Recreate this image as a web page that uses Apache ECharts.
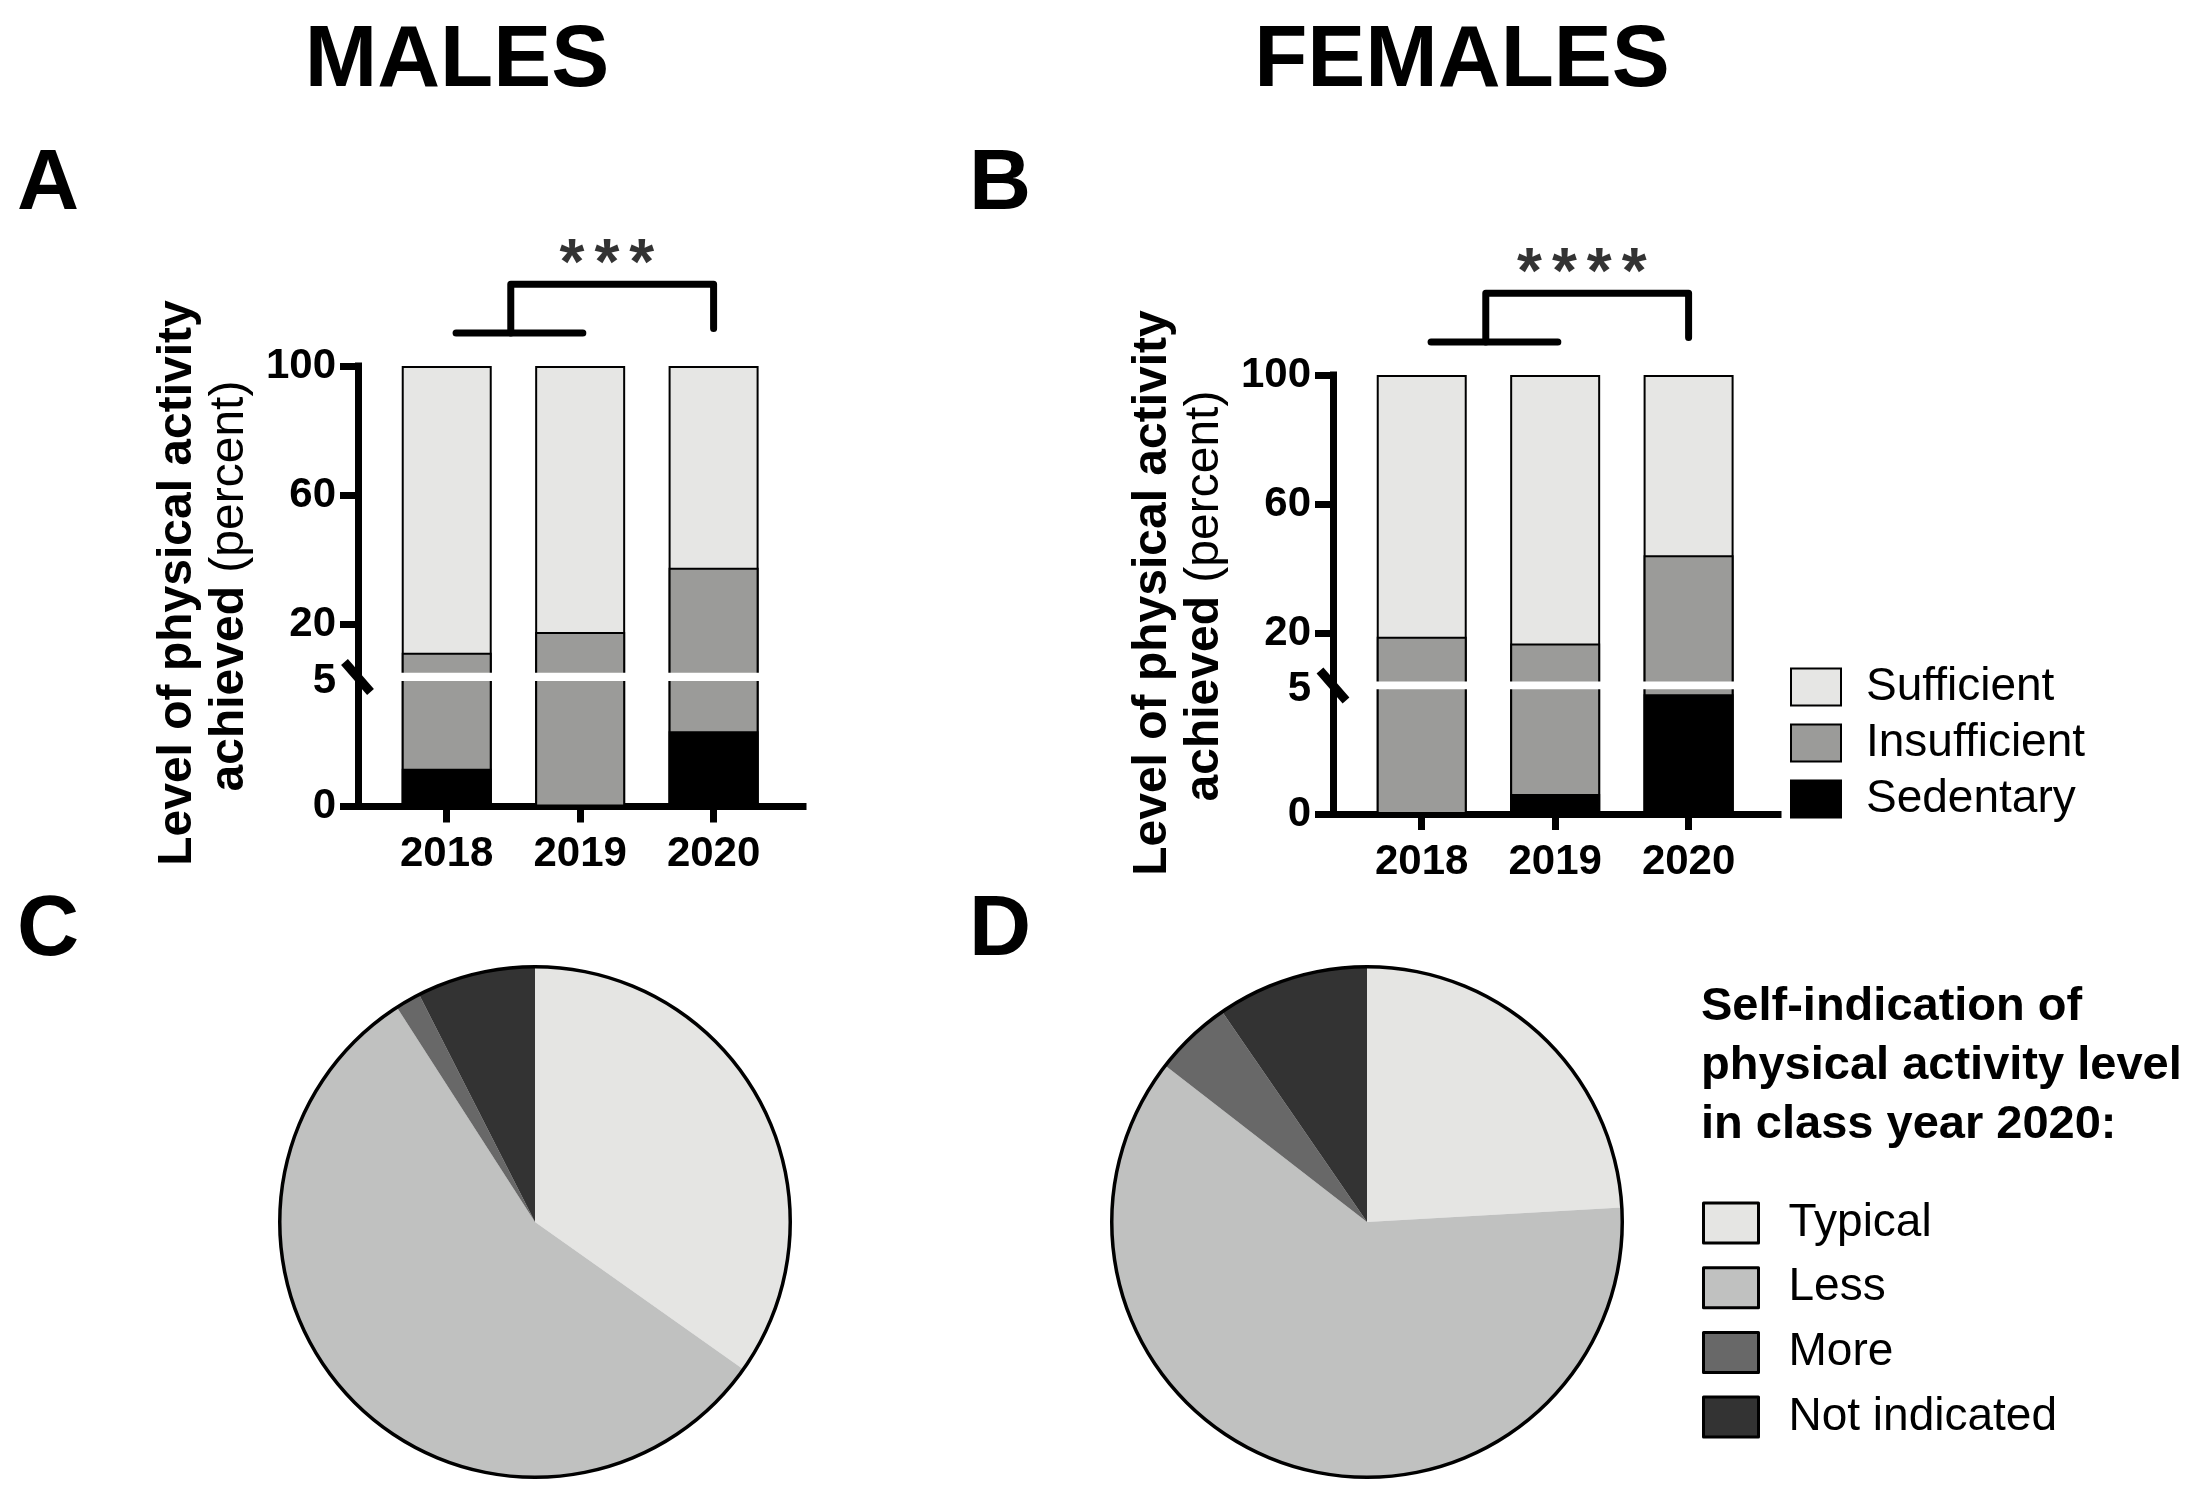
<!DOCTYPE html>
<html><head><meta charset="utf-8">
<script src="https://cdn.jsdelivr.net/npm/echarts@6/dist/echarts.min.js"></script>
<style>html,body{margin:0;padding:0;background:#fff}#c{width:2204px;height:1497px}</style>
</head><body><div id="c"></div>
<script>
// ---------- data ----------
const years = ['2018', '2019', '2020'];
const levels = ['Sufficient', 'Insufficient', 'Sedentary'];
const maleSedentary = [1.5, 0, 3.0];
const maleInsufficient = [9.7, 17.6, 34.5];
const maleSufficient = [88.8, 82.4, 62.5];
const femaleSedentary = [0, 0.8, 4.8];
const femaleInsufficient = [18.9, 16.0, 39.3];
const femaleSufficient = [81.1, 83.2, 55.9];
const upperTicks = [20, 60, 100];
const lowerLabels = [0, 5];
const lowerTicks = [0];
const selfCategories = ['Typical', 'Less', 'More', 'Not indicated'];
const maleSelf = [34.8, 56.1, 1.6, 7.5];
const femaleSelf = [24.1, 61.4, 4.9, 9.6];
// significance annotations (axis units of the upper segment)
const bracketLow = [[0.07, 110.2], [1.02, 110.2]];
const bracketHigh = [[0.48, 110.2], [0.48, 125.3], [2, 125.3], [2, 111.6]];
const starsAt = [[1.2, 131]];
const maleStars = '***';
const femaleStars = '****';

// ---------- style ----------
const F = '"Liberation Sans", Arial, Helvetica, sans-serif';
const barColors = {Sufficient: '#e6e6e4', Insufficient: '#9b9b99', Sedentary: '#000000'};
const pieColors = ['#e5e5e3', '#c0c1c0', '#686868', '#333333'];

const chart = echarts.init(document.getElementById('c'), null, {renderer: 'canvas'});

const grids = [
  {left: 358, top: 366, width: 445, height: 308.2},
  {left: 358, top: 679.5, width: 445, height: 127},
  {left: 1333, top: 375, width: 445, height: 308},
  {left: 1333, top: 687.8, width: 445, height: 126.2}
].map(g => Object.assign({containLabel: false, outerBoundsMode: 'none', show: false}, g));

const lineSt = {color: '#000', width: 7, cap: 'square'};
function xAxisFor(i, show) {
  return {
    type: 'value', gridIndex: i, min: -0.665, max: 2.67, show: show,
    axisLine: {show: true, onZero: false, lineStyle: lineSt},
    axisTick: {show: true, customValues: [0, 1, 2], length: 16, lineStyle: {color: '#000', width: 7}},
    axisLabel: {show: true, customValues: [0, 1, 2], formatter: v => years[v], margin: 27,
      fontSize: 42, fontWeight: 'bold', fontFamily: F, color: '#000'},
    splitLine: {show: false}
  };
}
function yAxisFor(i, upper) {
  return {
    type: 'value', gridIndex: i, min: upper ? 4.535 : 0, max: upper ? 100 : 5.06,
    axisLine: {show: true, onZero: false, lineStyle: lineSt},
    axisTick: {show: true, customValues: upper ? upperTicks : lowerTicks, length: 18, lineStyle: {color: '#000', width: 7}},
    axisLabel: {show: true, customValues: upper ? upperTicks : lowerLabels, margin: 22,
      fontSize: 42, fontWeight: 'bold', fontFamily: F, color: '#000'},
    splitLine: {show: false}
  };
}

function panelBars(sed, ins, suf, gU, gL) {
  const cumIns = ins.map((v, i) => v + sed[i]);
  const cumSuf = suf.map((v, i) => v + ins[i] + sed[i]);
  const layers = [['Sufficient', cumSuf], ['Insufficient', cumIns], ['Sedentary', sed]];
  const out = [];
  [gU, gL].forEach(g => {
    layers.forEach(([name, vals]) => {
      out.push({
        type: 'bar', name: name, xAxisIndex: g, yAxisIndex: g,
        data: vals.map((v, i) => [i, v]),
        barWidth: 90, barGap: '-100%', clip: true, silent: true,
        itemStyle: {color: barColors[name], borderColor: '#000', borderWidth: 2},
        emphasis: {disabled: true}
      });
    });
  });
  return out;
}
function bracketSeries(g, stars) {
  const ls = {color: '#000', width: 7, cap: 'round', join: 'round'};
  const starText = stars.split('').map(s => '{a|' + s + '}').join('{s| }');
  return [
    {type: 'line', xAxisIndex: g, yAxisIndex: g, data: bracketLow, symbol: 'none', clip: false, silent: true, z: 6, lineStyle: ls},
    {type: 'line', xAxisIndex: g, yAxisIndex: g, data: bracketHigh, symbol: 'none', clip: false, silent: true, z: 6, lineStyle: ls},
    {type: 'scatter', xAxisIndex: g, yAxisIndex: g, data: starsAt, symbolSize: 1, clip: false, silent: true, z: 6,
      itemStyle: {color: 'rgba(0,0,0,0)'},
      label: {show: true, position: 'inside', formatter: starText, color: '#000', fontFamily: F,
        rich: {a: {fontSize: 64, fontWeight: 'bold', color: '#000', fontFamily: F},
               s: {fontSize: 36, color: '#000', fontFamily: F}}}}
  ];
}
function pieSeries(vals, cx) {
  return [{
    type: 'pie', center: [cx, 1222], radius: 255, startAngle: 90, clockwise: true, silent: true,
    label: {show: false}, labelLine: {show: false}, emphasis: {disabled: true},
    itemStyle: {borderWidth: 0},
    data: selfCategories.map((n, i) => ({name: n, value: vals[i], itemStyle: {color: pieColors[i]}}))
  }, {
    type: 'pie', center: [cx, 1222], radius: [253.5, 257], silent: true,
    label: {show: false}, labelLine: {show: false}, emphasis: {disabled: true},
    itemStyle: {borderWidth: 0},
    data: [{name: 'outline', value: 1, itemStyle: {color: '#000'}}]
  }];
}

function txt(x, y, text, size, weight, align, extra) {
  return {type: 'text', x: x, y: y, silent: true, z: 10,
    style: Object.assign({text: text, fontSize: size, fontWeight: weight, fontFamily: F, fill: '#000',
      align: align, textAlign: align, verticalAlign: 'middle', textVerticalAlign: 'middle'}, extra || {})};
}
function axisName(x1, x2, y, yy) {
  return [
    Object.assign(txt(x1, y, 'Level of physical activity', 48, 'bold', 'center'), {rotation: Math.PI / 2}),
    Object.assign(txt(x2, yy, '{b|achieved} {n|(percent)}', 48, 'normal', 'center', {
      rich: {b: {fontSize: 48, fontWeight: 'bold', fontFamily: F, fill: '#000'},
             n: {fontSize: 48, fontWeight: 'normal', fontFamily: F, fill: '#000'}}}), {rotation: Math.PI / 2})
  ];
}
function breakBand(x1, x2, y1, y2) {
  return {type: 'rect', silent: true, z: 100,
    shape: {x: x1, y: y1, width: x2 - x1, height: y2 - y1},
    style: {fill: '#fff'}};
}
function breakMark(cx, cy) {
  return {type: 'line', silent: true, z: 101,
    shape: {x1: cx - 13, y1: cy - 15, x2: cx + 13, y2: cy + 15},
    style: {stroke: '#000', lineWidth: 9}};
}

const option = {
  animation: false,
  backgroundColor: '#fff',
  grid: grids,
  xAxis: [xAxisFor(0, false), xAxisFor(1, true), xAxisFor(2, false), xAxisFor(3, true)],
  yAxis: [yAxisFor(0, true), yAxisFor(1, false), yAxisFor(2, true), yAxisFor(3, false)],
  legend: [{
    data: levels, orient: 'vertical', left: 1785, top: 659, itemWidth: 50, itemHeight: 37, itemGap: 10,
    icon: 'rect', selectedMode: false,
    textStyle: {fontSize: 46, lineHeight: 46, color: '#000', fontFamily: F, padding: [0, 0, 0, 20]}
  }, {
    data: selfCategories, orient: 'vertical', left: 1697, top: 1195, itemWidth: 55, itemHeight: 40, itemGap: 18.7,
    icon: 'rect', selectedMode: false,
    itemStyle: {borderColor: '#000', borderWidth: 3},
    textStyle: {fontSize: 46, lineHeight: 46, color: '#000', fontFamily: F, padding: [0, 0, 0, 25]}
  }],
  series: [].concat(
    panelBars(maleSedentary, maleInsufficient, maleSufficient, 0, 1),
    panelBars(femaleSedentary, femaleInsufficient, femaleSufficient, 2, 3),
    bracketSeries(0, maleStars),
    bracketSeries(2, femaleStars),
    pieSeries(maleSelf, 535),
    pieSeries(femaleSelf, 1367)
  ),
  graphic: [].concat(
    [txt(457, 62, 'MALES', 87, 'bold', 'center'),
     txt(1462, 62, 'FEMALES', 87, 'bold', 'center'),
     txt(17, 185, 'A', 86, 'bold', 'left'),
     txt(969, 185, 'B', 86, 'bold', 'left'),
     txt(17, 931, 'C', 86, 'bold', 'left'),
     txt(969, 931, 'D', 86, 'bold', 'left'),
     txt(1701, 977.5, 'Self-indication of\nphysical activity level\nin class year 2020:', 47, 'bold', 'left',
       {verticalAlign: 'top', textVerticalAlign: 'top', lineHeight: 59}),
     breakBand(362, 806, 672.7, 681),
     breakBand(1337, 1781, 681.5, 689.3),
     breakMark(357.5, 677),
     breakMark(1333, 685.5)],
    axisName(178, 230, 583, 586),
    axisName(1153, 1205, 593, 596)
  )
};
chart.setOption(option);
</script></body></html>
